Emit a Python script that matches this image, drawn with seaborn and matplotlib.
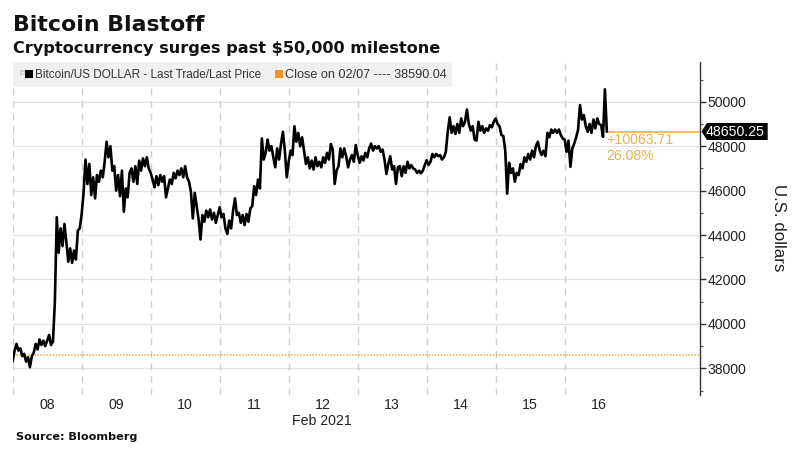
import matplotlib
matplotlib.use("Agg")
import matplotlib.pyplot as plt
from matplotlib.patches import Rectangle, Polygon
import numpy as np
import pandas as pd
import seaborn as sns

# Prices, one reading every 40 minutes, one list per day
feb08 = [38300,38800,39100,38800,38900,38550,38650,38300,38500,38050,38550,38700,
         39100,38850,39300,39050,39250,39000,39250,39500,39050,39200,40950,44800,
         43200,44300,43500,44500,43700,42800,43400,42750,43300,42900,44200,44300]
feb09 = [44950,45900,47400,46300,47200,45800,46600,45650,46700,46400,46900,46600,
         47300,48200,47500,48000,46900,47100,46000,46700,45750,46900,45050,46100,
         45700,46800,47000,46400,47100,46300,47350,46900,47450,47100,47500,47000]
feb10 = [46800,46500,46150,46650,46250,46700,46400,46650,45700,46100,46500,46300,
         46800,46550,46900,46700,47000,46600,47100,46600,46400,45950,44750,45900,
         45300,44700,43800,44900,44600,45100,44800,45150,44700,45000,44550,44900]
feb11 = [45250,44800,44950,44300,44050,44650,44300,45100,45650,44900,45000,44550,
         44900,44450,44950,44600,45200,45300,46200,45800,46500,46100,48350,47400,
         47700,48300,47800,48000,47500,47050,47900,47400,48100,48650,47800,46600]
feb12 = [47300,47800,47600,48900,48200,48600,48000,48400,47800,47200,47500,47000,
         47350,46950,47500,47100,47300,47050,47500,47250,47700,47400,48100,47850,
         46300,46900,47100,47900,47500,47900,47550,47050,47400,47600,47300,48050]
feb13 = [47600,47250,47550,47350,47700,47500,47900,48120,47800,48000,47900,48000,
         47750,47850,47400,46750,47200,47550,46950,47100,46300,47050,47100,46650,
         47100,46800,47300,47000,47150,47000,46950,46800,46900,46780,46900,47150]
feb14 = [47370,47150,47300,47650,47500,47650,47550,47600,47400,47500,47750,48650,
         49300,48600,48900,48550,49000,48600,49250,48900,49100,49650,49000,48700,
         48900,48300,48250,49100,48700,48900,48600,48800,48700,48950,48850,49100]
feb15 = [49250,49000,48900,48500,48450,47800,45860,47250,46800,47000,46400,46800,
         46700,47200,47000,47500,47300,47650,47400,47800,47500,48000,48200,47800,
         47600,47800,47550,48600,48400,48750,48600,48750,48600,48750,48500,48350]
feb16 = [48300,47750,48250,47070,47900,48120,48400,48750,49850,49200,49400,48900,
         48650,49000,48600,49200,48800,49250,49000,48950,48420,50560,48650]
day_labels = ["08","09","10","11","12","13","14","15","16"]
y_ticks = [38000,40000,42000,44000,46000,48000,50000]
y_minor = [37000,39000,41000,43000,45000,47000,49000,51000]
last_price = 48650.25
prior_close = 38590.04
change_text = "+10063.71"
pct_text = "26.08%"

W, H = 800, 461
sns.set_theme(style="white")
plt.rcParams['font.family'] = ['Liberation Sans', 'DejaVu Sans']
fig = plt.figure(figsize=(W/100, H/100), dpi=100, facecolor="white")
L, R, T, B = 12.67, 699.7, 62, 395
ax = fig.add_axes([L/W, 1-B/H, (R-L)/W, (B-T)/H])

prices = feb08+feb09+feb10+feb11+feb12+feb13+feb14+feb15+feb16
start = pd.Timestamp("2021-02-08")
df = pd.DataFrame({"time": pd.date_range(start, periods=len(prices), freq="40min"), "price": prices})
x1 = start + pd.Timedelta(hours=(R-L)/2.875)
ax.set_xlim(start, x1)
ax.set_ylim(36800, 51790)

for s in ["top", "left", "bottom"]:
    ax.spines[s].set_visible(False)
ax.spines["right"].set_color("#333333")
ax.spines["right"].set_linewidth(1.0)

ax.yaxis.tick_right()
ax.set_yticks(y_ticks)
ax.set_yticks(y_minor, minor=True)
ax.tick_params(axis="y", which="major", length=4, width=1, color="#333333", labelsize=10.1, labelcolor="#222222", pad=1.5, right=True)
ax.tick_params(axis="y", which="minor", length=2.5, width=0.8, color="#555555", right=True)
ax.grid(True, axis="y", which="major", color="#e2e2e6", lw=0.9)
ax.set_axisbelow(True)

for i in range(9):
    ax.axvline(start + pd.Timedelta(days=i), color="#cfcfcf", lw=1, ls=(0, (5, 4)), zorder=1)

ax.set_xticks([start + pd.Timedelta(hours=12+24*i) for i in range(9)])
ax.set_xticklabels(day_labels)
ax.tick_params(axis="x", length=0, labelsize=10.2, labelcolor="#222222", pad=2)

ax.axhline(prior_close, color="#e3b23c", lw=1.1, ls=(0, (1, 1)), zorder=2)
sns.lineplot(data=df, x="time", y="price", ax=ax, color="black", lw=1.9, zorder=4, legend=False,
             estimator=None, sort=False)
ax.set_xlabel(""); ax.set_ylabel("")
ax.plot([df.time.iloc[-1], x1], [last_price, last_price], color="#f0a830", lw=1.1, zorder=3)

# header band / legend
fig.add_artist(Rectangle((L/W, 1-87/H), (452-L)/W, 25/H, transform=fig.transFigure, facecolor="#f0f0f0", edgecolor="none", zorder=3))
fig.add_artist(Rectangle((25/W, 1-78/H), 7.5/W, 7.5/H, transform=fig.transFigure, facecolor="black", edgecolor="none", zorder=4))
fig.add_artist(Rectangle((275/W, 1-78/H), 7.5/W, 7.5/H, transform=fig.transFigure, facecolor="#f0961e", edgecolor="none", zorder=4))
fig.text(35/W, 1-74.5/H, "Bitcoin/US DOLLAR - Last Trade/Last Price", fontsize=8.5, color="#333333", va="center", zorder=5)
fig.text(285/W, 1-74.5/H, "Close on 02/07 ---- 38590.04", fontsize=9.1, color="#333333", va="center", zorder=5)
fig.text(19/W, 1-74.5/H, "\u2690", fontsize=6, color="#888888", va="center", zorder=5)

# titles
fig.text(13/W, 1-25/H, "Bitcoin Blastoff", fontsize=15.8, fontweight="bold", family="DejaVu Sans", color="#111111", va="center")
fig.text(13/W, 1-48/H, "Cryptocurrency surges past $50,000 milestone", fontsize=11.65, fontweight="bold", family="DejaVu Sans", color="#111111", va="center")
fig.text(15.5/W, 1-437/H, "Source: Bloomberg", fontsize=8.1, fontweight="bold", family="DejaVu Sans", color="#111111", va="center")
fig.text(322/W, 1-421/H, "Feb 2021", fontsize=10.2, color="#222222", va="center", ha="center")

# change annotations
fig.text(606/W, 1-140/H, change_text, fontsize=10.2, color="#e8b04a", va="center")
fig.text(606/W, 1-156/H, pct_text, fontsize=10.2, color="#e8b04a", va="center")

# last-price tag
tag = Polygon(np.array([[701.5,131.5],[707,123],[767.7,123],[767.7,140],[707,140]])/np.array([W,H])*np.array([1,-1])+np.array([0,1]),
              closed=True, transform=fig.transFigure, facecolor="black", edgecolor="none", zorder=6)
fig.add_artist(tag)
fig.text(735.5/W, 1-131.5/H, f"{last_price:.2f}", fontsize=10.2, color="white", va="center", ha="center", zorder=7)

fig.text(778/W, 1-228/H, "U.S. dollars", fontsize=12.2, color="#222222", rotation=270, va="center", ha="center")

fig.savefig("out.png", dpi=100)
